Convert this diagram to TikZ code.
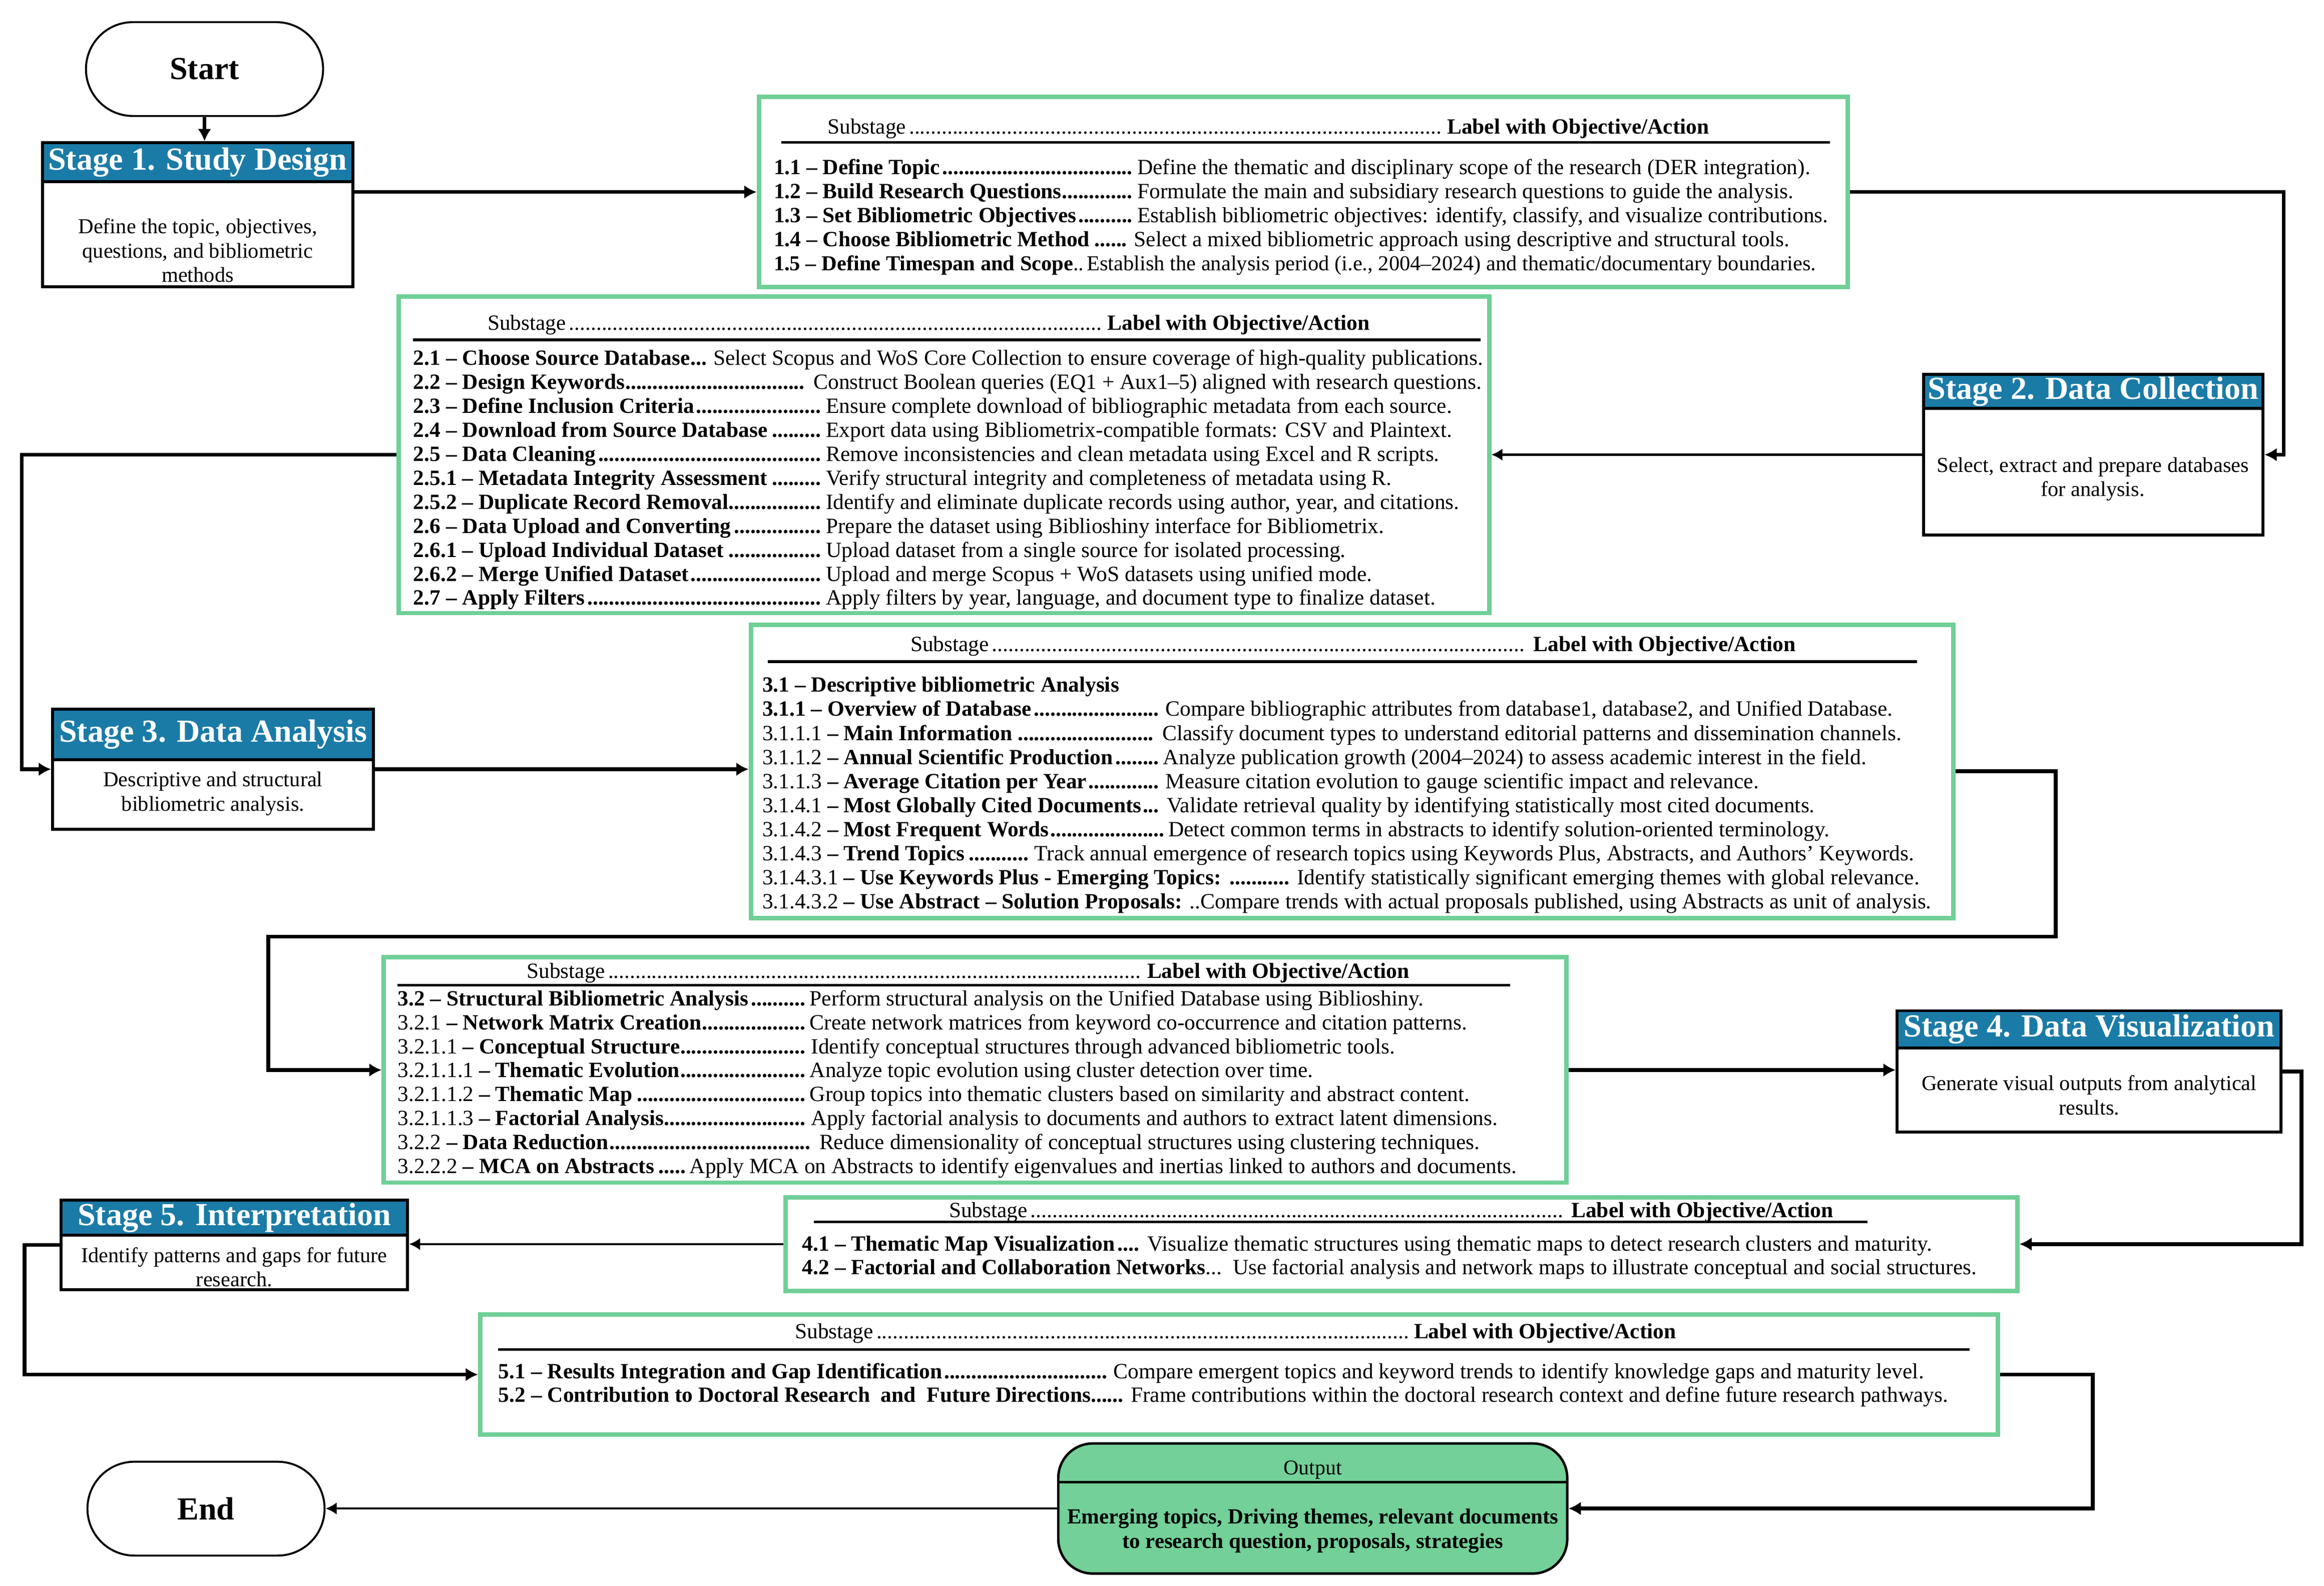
\documentclass[tikz,border=0pt]{standalone}
\usepackage{fontspec}
\setmainfont{Liberation Serif}
\usetikzlibrary{arrows.meta,fit,shapes.misc,calc}
\definecolor{hblue}{HTML}{1B7BA7}
\definecolor{gbord}{HTML}{70CF97}
\definecolor{ogreen}{HTML}{72D098}
\newdimen\uu \uu=0.6pt
\newcommand\lead[2]{\makebox[#1\uu][l]{#2\bfseries\leaders\hbox{.}\hfill\kern1.5pt}}
\newcommand\leadn[2]{\makebox[#1\uu][l]{#2\leaders\hbox{.}\hfill\kern2pt}}
\begin{document}
\begin{tikzpicture}[x=0.6pt,y=-0.6pt,
  gbox/.style={draw=gbord, line width=1.8pt, fill=white, inner sep=0pt},
  sbox/.style={draw=black, line width=1.2pt, fill=white, inner sep=0pt},
  shead/.style={draw=black, line width=1.2pt, fill=hblue, inner sep=0pt},
  htext/.style={text=white, font=\fontsize{13}{15}\selectfont\bfseries, inner sep=0pt},
  btext/.style={align=center, font=\fontsize{8.6}{9.8}\selectfont, inner sep=0pt},
  row/.style={anchor=west, inner sep=0pt, font=\fontsize{8.8}{9.7}\selectfont, text height=6.2pt, text depth=1.9pt},
  rulel/.style={line width=1.1pt},
  term/.style={draw, line width=0.8pt, rounded rectangle, minimum width=96pt, minimum height=38pt, inner sep=0pt, font=\fontsize{13}{15}\selectfont\bfseries},
  outbox/.style={draw, line width=1pt, fill=ogreen, rounded corners=14pt, inner sep=0pt,
     path picture={\draw[line width=1pt] ([yshift=10.7pt]path picture bounding box.west) -- ([yshift=10.7pt]path picture bounding box.east);}},
  conn/.style={line width=1.5pt, -{Latex[length=5pt,width=5.5pt]}},
  connthin/.style={line width=0.9pt, -{Latex[length=4.5pt,width=5pt]}}
]
\useasboundingbox (0,0) rectangle (1568,1069.9);

% ---------- terminals ----------
\node[term] (start) at (138,46.6) {Start};
\node[term] (endn) at (139,1018) {End};

% ---------- stage boxes ----------
\node[sbox, fit={(28.7,96.3) (238,193.5)}] (s1) {};
\node[shead, fit={(28.7,96.3) (238,122.6)}] (s1h) {};
\node[htext] (s1t) at (s1h.center) {Stage 1. Study Design};
\node[btext] (s1b) at (133.4,169) {Define the topic, objectives,\\questions, and bibliometric\\methods};

\node[sbox, fit={(1297.7,252.6) (1526.8,361)}] (s2) {};
\node[shead, fit={(1297.7,252.6) (1526.8,275.6)}] (s2h) {};
\node[htext] (s2t) at (s2h.center) {Stage 2. Data Collection};
\node[btext] (s2b) at (1412,323.3) {Select, extract and prepare databases\\for analysis.};

\node[sbox, fit={(35.5,478.5) (252,559.6)}] (s3) {};
\node[shead, fit={(35.5,478.5) (252,512.7)}] (s3h) {};
\node[htext] (s3t) at (s3h.center) {Stage 3. Data Analysis};
\node[btext] (s3b) at (143.7,535.5) {Descriptive and structural\\bibliometric analysis.};

\node[sbox, fit={(1280,682) (1539,764)}] (s4) {};
\node[shead, fit={(1280,682) (1539,707)}] (s4h) {};
\node[htext] (s4t) at (s4h.center) {Stage 4. Data Visualization};
\node[btext] (s4b) at (1409.5,739) {Generate visual outputs from analytical\\results.};

\node[sbox, fit={(41.2,809.7) (275,870.3)}] (s5) {};
\node[shead, fit={(41.2,809.7) (275,833.5)}] (s5h) {};
\node[htext] (s5t) at (s5h.center) {Stage 5. Interpretation};
\node[btext] (s5b) at (158,855) {Identify patterns and gaps for future\\research.};

% ---------- green boxes ----------
\node[gbox, fit={(512,65.3) (1246.6,193.8)}] (b1) {};
\node[gbox, fit={(269,200) (1004.7,413.7)}] (b2) {};
\node[gbox, fit={(506.6,421.5) (1318,619.4)}] (b3) {};
\node[gbox, fit={(259,646) (1057,798)}] (b4) {};
\node[gbox, fit={(530,808) (1361,871)}] (b5) {};
\node[gbox, fit={(324,887) (1348,968)}] (b6) {};

% ---------- output ----------
\node[outbox, fit={(714,974) (1057.4,1061.8)}] (out) {};
\node[inner sep=0pt, font=\fontsize{8.5}{9.5}\selectfont] (outh) at (885.7,992) {Output};
\node[inner sep=0pt, align=center, font=\fontsize{8.7}{9.8}\selectfont\bfseries] (outb) at (885.7,1033) {Emerging topics, Driving themes, relevant documents\\to research question, proposals, strategies};

% ---------- box 1 ----------
\node[row] (h1) at (558,86.8) {\leadn{418}{Substage}\textbf{Label with Objective/Action}};
\draw[rulel] (527,96) -- (1234.7,96);
\node[row] (r11) at (521.8,114.2) {\lead{245.2}{\textbf{1.1 – Define Topic}}Define the thematic and disciplinary scope of the research (DER integration).};
\node[row] (r12) at (521.8,130.4) {\lead{245.2}{\textbf{1.2 – Build Research Questions}}Formulate the main and subsidiary research questions to guide the analysis.};
\node[row] (r13) at (521.8,146.6) {\lead{245.2}{\textbf{1.3 – Set Bibliometric Objectives}}Establish bibliometric objectives: identify, classify, and visualize contributions.};
\node[row] (r14) at (521.8,162.8) {\lead{243}{\textbf{1.4 – Choose Bibliometric Method}}Select a mixed bibliometric approach using descriptive and structural tools.};
\node[row, font=\fontsize{8.6}{9.7}\selectfont] (r15) at (521.8,179) {\textbf{1.5 – Define Timespan and Scope}..\kern1.2pt Establish the analysis period (i.e., 2004–2024) and thematic/documentary boundaries.};

% ---------- box 2 ----------
\node[row] (h2) at (328.6,219) {\leadn{418.4}{Substage}\textbf{Label with Objective/Action}};
\draw[rulel] (278.6,229.3) -- (999,229.3);
\node[row] (r21) at (278.6,242.9) {\lead{202.4}{\textbf{2.1 – Choose Source Database}}Select Scopus and WoS Core Collection to ensure coverage of high-quality publications.};
\node[row] (r22) at (278.6,259.1) {\lead{270}{\textbf{2.2 – Design Keywords}}Construct Boolean queries (EQ1 + Aux1–5) aligned with research questions.};
\node[row] (r23) at (278.6,275.3) {\lead{278.4}{\textbf{2.3 – Define Inclusion Criteria}}Ensure complete download of bibliographic metadata from each source.};
\node[row] (r24) at (278.6,291.4) {\lead{278.4}{\textbf{2.4 – Download from Source Database}}Export data using Bibliometrix-compatible formats: CSV and Plaintext.};
\node[row] (r25) at (278.6,307.6) {\lead{278.4}{\textbf{2.5 – Data Cleaning}}Remove inconsistencies and clean metadata using Excel and R scripts.};
\node[row] (r251) at (278.6,323.8) {\lead{278.4}{\textbf{2.5.1 – Metadata Integrity Assessment}}Verify structural integrity and completeness of metadata using R.};
\node[row] (r252) at (278.6,340) {\lead{278.4}{\textbf{2.5.2 – Duplicate Record Removal}}Identify and eliminate duplicate records using author, year, and citations.};
\node[row] (r26) at (278.6,356.2) {\lead{278.4}{\textbf{2.6 – Data Upload and Converting}}Prepare the dataset using Biblioshiny interface for Bibliometrix.};
\node[row] (r261) at (278.6,372.3) {\lead{278.4}{\textbf{2.6.1 – Upload Individual Dataset}}Upload dataset from a single source for isolated processing.};
\node[row] (r262) at (278.6,388.5) {\lead{278.4}{\textbf{2.6.2 – Merge Unified Dataset}}Upload and merge Scopus + WoS datasets using unified mode.};
\node[row] (r27) at (278.6,404.7) {\lead{278.4}{\textbf{2.7 – Apply Filters}}Apply filters by year, language, and document type to finalize dataset.};

% ---------- box 3 ----------
\node[row] (h3) at (614,436) {\leadn{420.4}{Substage}\textbf{Label with Objective/Action}};
\draw[rulel] (518,446.5) -- (1293.5,446.5);
\node[row] (r31) at (514,463.4) {\textbf{3.1 – Descriptive bibliometric Analysis}};
\node[row] (r311) at (514,479.6) {\lead{272}{\textbf{3.1.1 – Overview of Database}}Compare bibliographic attributes from database1, database2, and Unified Database.};
\node[row] (r3111) at (514,495.9) {\lead{270}{3.1.1.1 \textbf{– Main Information}}Classify document types to understand editorial patterns and dissemination channels.};
\node[row] (r3112) at (514,512.1) {\lead{270.5}{3.1.1.2 \textbf{– Annual Scientific Production}}Analyze publication growth (2004–2024) to assess academic interest in the field.};
\node[row] (r3113) at (514,528.4) {\lead{272}{3.1.1.3 \textbf{– Average Citation per Year}}Measure citation evolution to gauge scientific impact and relevance.};
\node[row] (r3141) at (514,544.6) {\lead{273}{3.1.4.1 \textbf{– Most Globally Cited Documents}}Validate retrieval quality by identifying statistically most cited documents.};
\node[row] (r3142) at (514,560.9) {\lead{274}{3.1.4.2 \textbf{– Most Frequent Words}}Detect common terms in abstracts to identify solution-oriented terminology.};
\node[row] (r3143) at (514,577.1) {\lead{183.7}{3.1.4.3 \textbf{– Trend Topics}}Track annual emergence of research topics using Keywords Plus, Abstracts, and Authors’ Keywords.};
\node[row] (r31431) at (514,593.4) {\lead{360.7}{3.1.4.3.1 \textbf{– Use Keywords Plus - Emerging Topics:} }Identify statistically significant emerging themes with global relevance.};
\node[row] (r31432) at (514,609.6) {3.1.4.3.2 \textbf{– Use Abstract – Solution Proposals:} ..Compare trends with actual proposals published, using Abstracts as unit of analysis.};

% ---------- box 4 ----------
\node[row] (h4) at (355,656.5) {\leadn{418.7}{Substage}\textbf{Label with Objective/Action}};
\draw[rulel] (268,664.8) -- (1019,664.8);
\node[row] (r32) at (268,675) {\lead{278}{\textbf{3.2 – Structural Bibliometric Analysis}}Perform structural analysis on the Unified Database using Biblioshiny.};
\node[row] (r321) at (268,691.1) {\lead{278}{3.2.1 \textbf{– Network Matrix Creation}}Create network matrices from keyword co-occurrence and citation patterns.};
\node[row] (r3211) at (268,707.3) {\lead{279}{3.2.1.1 \textbf{– Conceptual Structure}}Identify conceptual structures through advanced bibliometric tools.};
\node[row] (r32111) at (268,723.4) {\lead{278}{3.2.1.1.1 \textbf{– Thematic Evolution}}Analyze topic evolution using cluster detection over time.};
\node[row] (r32112) at (268,739.6) {\lead{278}{3.2.1.1.2 \textbf{– Thematic Map}}Group topics into thematic clusters based on similarity and abstract content.};
\node[row] (r32113) at (268,755.7) {\lead{279}{3.2.1.1.3 \textbf{– Factorial Analysis}}Apply factorial analysis to documents and authors to extract latent dimensions.};
\node[row] (r322) at (268,771.8) {\lead{284.5}{3.2.2 \textbf{– Data Reduction}}Reduce dimensionality of conceptual structures using clustering techniques.};
\node[row] (r3222) at (268,788) {\lead{197}{3.2.2.2 \textbf{– MCA on Abstracts}}Apply MCA on Abstracts to identify eigenvalues and inertias linked to authors and documents.};

% ---------- box 5 ----------
\node[row] (h5) at (640,817.9) {\leadn{419.8}{Substage}\textbf{Label with Objective/Action}};
\draw[rulel] (549,824.6) -- (1260,824.6);
\node[row] (r41) at (541,840.5) {\lead{233}{\textbf{4.1 – Thematic Map Visualization}}Visualize thematic structures using thematic maps to detect research clusters and maturity.};
\node[row] (r42) at (541,856.3) {\textbf{4.2 – Factorial and Collaboration Networks}...\ \ Use factorial analysis and network maps to illustrate conceptual and social structures.};

% ---------- box 6 ----------
\node[row] (h6) at (536,899.5) {\leadn{417.7}{Substage}\textbf{Label with Objective/Action}};
\draw[rulel] (336,910.7) -- (1329,910.7);
\node[row] (r51) at (336,926.5) {\lead{415}{\textbf{5.1 – Results Integration and Gap Identification}}Compare emergent topics and keyword trends to identify knowledge gaps and maturity level.};
\node[row] (r52) at (336,942.5) {\lead{426.6}{\textbf{5.2 – Contribution to Doctoral Research\ \ and\ \ Future Directions}}Frame contributions within the doctoral research context and define future research pathways.};

% ---------- connectors ----------
\coordinate (k1) at (1540.7,200);
\coordinate (k2) at (14.6,400);
\coordinate (k3) at (1387,632);
\coordinate (k4) at (181,632);
\coordinate (k5) at (1552.8,780);
\coordinate (k6) at (16.5,880);
\coordinate (k7) at (1412,970);

\draw[conn] (start.south) -- (start.south |- s1.north);
\draw[conn] (s1.east |- b1.west) -- (b1.west);
\draw[conn] (b1.east) -| (k1) |- (s2.east);
\draw[connthin] (s2.west) -- (s2.west -| b2.east);
\draw[conn] (b2.west) -| (k2) |- (s3.west);
\draw[conn] (s3.east) -- (s3.east -| b3.west);
\draw[conn] (b3.east) -| (k3) -- (k4) |- (b4.west);
\draw[conn] (b4.east) -- (b4.east -| s4.west);
\draw[conn] (s4.east) -| (k5) |- (b5.east);
\draw[connthin] (b5.west) -- (b5.west -| s5.east);
\draw[conn] (s5.west) -| (k6) |- (b6.west);
\draw[conn] (b6.east) -| (k7) |- (out.east);
\draw[connthin] (out.west) -- (out.west -| endn.east);
\end{tikzpicture}
\end{document}
